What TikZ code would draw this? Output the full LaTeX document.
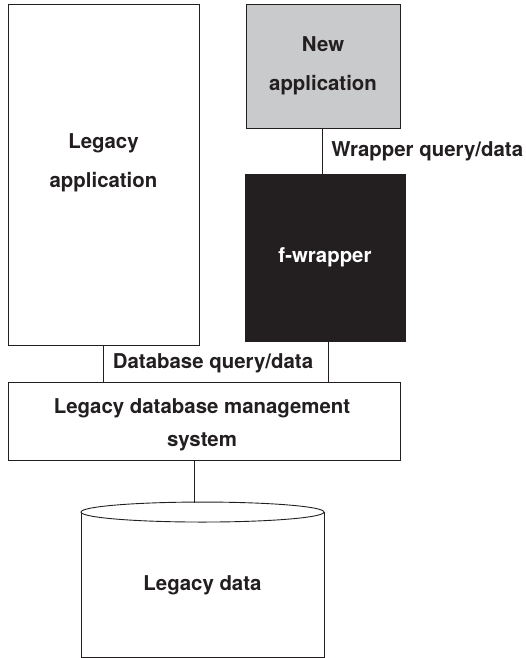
\documentclass[tikz,border=0pt]{standalone}
\usepackage{fontspec}
\setmainfont{TeX Gyre Heros}
\usepackage{tikz}
\usetikzlibrary{positioning}
\definecolor{inkblack}{RGB}{35,31,32}
\definecolor{boxgray}{RGB}{201,202,203}
\tikzset{every picture/.style={/utils/exec={\bfseries\fontsize{20.4}{39}\selectfont}}}

\begin{document}
\begin{tikzpicture}[x=1pt, y=-1pt, line width=0.9pt, draw=inkblack, text=inkblack,
    box/.style={draw=inkblack, rectangle, inner sep=0pt, align=center}]
        \useasboundingbox (0,0) rectangle (525,658);
        % Nodes
        \node[box, minimum width=191, minimum height=341] (legacyapp) at (103.5,174.5) {};
        \node[align=center] (legacytxt) at (103.5,162.5) {Legacy\\application};
        \node[box, fill=boxgray, minimum width=154, minimum height=124] (newapp) at (323,66) {New\\application};
        \node[box, fill=inkblack, text=white, minimum width=160, minimum height=167] (fwrap) at (325,257.5) {f-wrapper};
        \node[box, minimum width=392, minimum height=78] (dbms) at (204,421) {};
        \node[align=center, font=\bfseries\fontsize{20.4}{33}\selectfont] (dbmstxt) at (202,425) {Legacy database management\\system};
        \node[box, minimum width=243, minimum height=145] (data) at (202.5,585) {Legacy data};
        \draw[fill=white] (data.north) ellipse (121.5 and 10);
        \coordinate (datatop) at (194,502.5);

        % Edges
        \draw (newapp.south -| 322,0) -- (fwrap.north -| 322,0) node[midway, right=2pt] {Wrapper query/data};
        \draw (legacyapp.south) -- (legacyapp.south |- dbms.north);
        \draw (fwrap.south -| 328,0) -- (dbms.north -| 328,0);
        \node (dbquery) at (213,363) {Database query/data};
        \draw (dbms.south -| datatop) -- (datatop);
    \end{tikzpicture}
\end{document}
